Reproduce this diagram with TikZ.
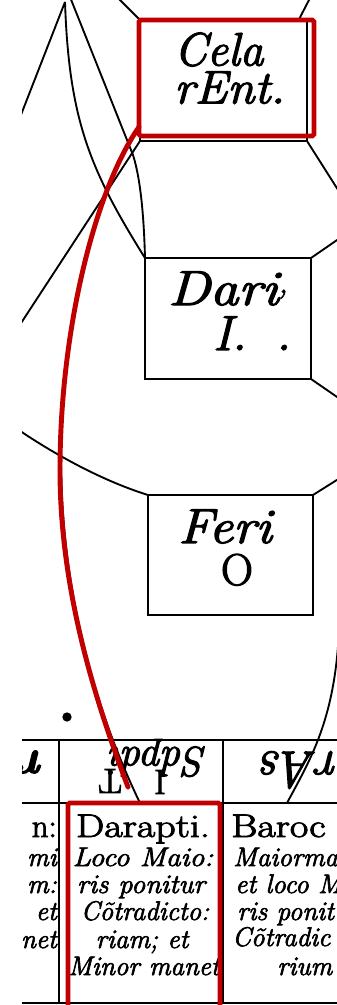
\documentclass[tikz,border=0pt]{standalone}
\usepackage{fontspec}
\setmainfont{Latin Modern Roman}[FakeBold=2.5]
\usepackage{graphicx}
\definecolor{hl}{RGB}{192,0,0}
\begin{document}
\begin{tikzpicture}[x=0.3mm,y=-0.3mm,
  lnk/.style={line width=1.6pt, black},
  boxk/.style={draw, line width=1.8pt, inner sep=0pt, outer sep=0pt},
  hlbox/.style={draw=hl, line width=4.2pt, rounded corners=1.5pt, inner sep=0pt, outer sep=0pt},
  hlline/.style={draw=hl, line width=4.2pt, line cap=round},
  celtxt/.style={inner sep=0pt, font=\fontsize{40}{32.3}\selectfont\itshape},
  dartxt/.style={inner sep=0pt, font=\fontsize{42}{42}\selectfont\itshape},
  hdtxt/.style={inner sep=0pt, font=\fontsize{28}{28}\selectfont},
  bdtxt/.style={inner sep=0pt, font=\fontsize{23}{23}\selectfont\itshape},
  rottxt/.style={inner sep=0pt, rotate=180}]
\useasboundingbox (0,0) rectangle (337,1005);
\fill[white] (0,0) rectangle (337,1005);
\begin{scope}
\clip (22,0) rectangle (337,1005);

% boxes
\node[boxk, minimum width=50.1mm, minimum height=36.3mm] (cel) at (223.5,80.5) {};
\node[boxk, minimum width=49.8mm, minimum height=36.3mm] (dar) at (228,318.5) {};
\node[boxk, minimum width=49.5mm, minimum height=36mm] (fer) at (230.5,555) {};

% free ends
\coordinate (apex) at (65,2);
\coordinate (l1end) at (10,143);
\coordinate (btop) at (70,-3);
\coordinate (bmid) at (133,155);
\coordinate (cend) at (10,340);
\coordinate (tl) at (117,-3);
\coordinate (tr) at (310,-2);
\coordinate (r1) at (340,193);
\coordinate (r2) at (340,238);
\coordinate (r3) at (340,399);
\coordinate (r4) at (340,478);
\coordinate (fl) at (10,424);
\coordinate (bk0) at (61,450);
\coordinate (bk1) at (140,803);
\coordinate (rb0) at (339,630);
\coordinate (rb1) at (287,803);

% lines of the figure
\draw[lnk] (apex) -- (l1end);
\draw[lnk] (apex) .. controls (69,120) and (90,170) .. (dar.north west);
\draw[lnk] (btop) -- (bmid) .. controls (141,180) and (144,220) .. (dar.north west);
\draw[lnk] (cel.south west) -- (cend);
\draw[lnk] (cel.north west) -- (tl);
\draw[lnk] ([xshift=-2.5mm]cel.north east) -- (tr);
\draw[lnk] (cel.south east) -- (r1);
\draw[lnk] (dar.north east) -- (r2);
\draw[lnk] (dar.south east) -- (r3);
\draw[lnk] (fer.north east) -- (r4);
\draw[lnk] (fer.north west) .. controls (100,480) and (50,452) .. (fl);
\draw[lnk] (bk0) .. controls (60,600) and (100,720) .. (bk1);
\draw[lnk] (rb0) .. controls (335,720) and (310,760) .. (rb1);
\node[circle, fill=black, inner sep=0pt, minimum size=2.8mm] (dot) at (67,717) {};

% box texts
\node[celtxt, align=left, anchor=north west] (celA) at (174,32.3) {Cela\\\scalebox{1.05}[1]{rEnt.}};
\node[dartxt, anchor=base west] (darA) at (168,305) {\scalebox{1.15}[1]{Dari}\raisebox{.25em}{\fontsize{26}{26}\selectfont ,}};
\node[dartxt, anchor=base west] (darB) at (213,350) {I.\hspace{.6em}.};
\node[dartxt, anchor=base west] (ferA) at (178,543) {\scalebox{1.1}[1]{Feri}};
\node[inner sep=0pt, font=\fontsize{38}{38}\selectfont, anchor=base] (ferB) at (237,585) {O};

% table
\draw[lnk] (22,740) -- (337,740);
\draw[lnk] (22,803) -- (337,803);
\draw[lnk] (22,1003) -- (337,1003);
\draw[lnk] (59,740) -- (59,1003);
\draw[lnk] (223,740) -- (223,1003);

% header (upside down)
\node[rottxt, font=\fontsize{42}{42}\selectfont\bfseries\itshape] (h1) at (32,762) {r};
\node[rottxt, font=\fontsize{36}{36}\selectfont\itshape] (h2) at (159,758) {Sdpdi};
\node[rottxt, font=\fontsize{30}{30}\selectfont] (h3) at (110,781) {T};
\node[inner sep=0pt, font=\fontsize{30}{30}\selectfont] (h4) at (160,782) {I};
\node[rottxt, font=\fontsize{44}{44}\selectfont\itshape] (h5) at (300,770) {rAs};

% left cell (cut)
\node[hdtxt, anchor=base east] (l0) at (57,837) {n:};
\node[bdtxt, anchor=base east] (l1) at (57,866) {mi};
\node[bdtxt, anchor=base east] (l2) at (57,893) {m:};
\node[bdtxt, anchor=base east] (l3) at (57,920) {et};
\node[bdtxt, anchor=base east] (l4) at (57,948) {net};

% Darapti cell
\node[hdtxt, anchor=base] (dn) at (143,837) {\scalebox{1.22}[1]{Darapti.}};
\node[bdtxt, anchor=base] (d1) at (143,866) {\scalebox{1.1}[1]{Loco Maio:}};
\node[bdtxt, anchor=base] (d2) at (141,893) {\scalebox{1.05}[1]{ris ponitur}};
\node[bdtxt, anchor=base] (d3) at (145,920) {Cõtradicto:};
\node[bdtxt, anchor=base] (d4) at (142,948) {riam; et};
\node[bdtxt, anchor=base] (d5) at (144,975) {Minor manet};

% Baroco cell (cut)
\node[hdtxt, anchor=base west] (bn) at (231,837) {\scalebox{1.22}[1]{Baroc}};
\node[bdtxt, anchor=base west] (b1) at (233,866) {Maiorma};
\node[bdtxt, anchor=base west] (b2) at (235,893) {et loco M};
\node[bdtxt, anchor=base west] (b3) at (237,920) {ris ponit};
\node[bdtxt, anchor=base west] (b4) at (232,946) {Cõtradic};
\node[bdtxt, anchor=base west] (b5) at (277,975) {rium};

% red highlights
\node[hlbox, minimum width=52.5mm, minimum height=34.8mm] (celr) at (226.5,78) {};
\node[hlbox, minimum width=45.6mm, minimum height=62.1mm] (darr) at (144,906.5) {};
\coordinate (rend) at (128,787);
\draw[hlline] ([yshift=2.7mm]celr.south west) .. controls (95,190) and (60,330) .. (60,470) .. controls (60,590) and (95,700) .. (rend);
\end{scope}
\end{tikzpicture}
\end{document}
